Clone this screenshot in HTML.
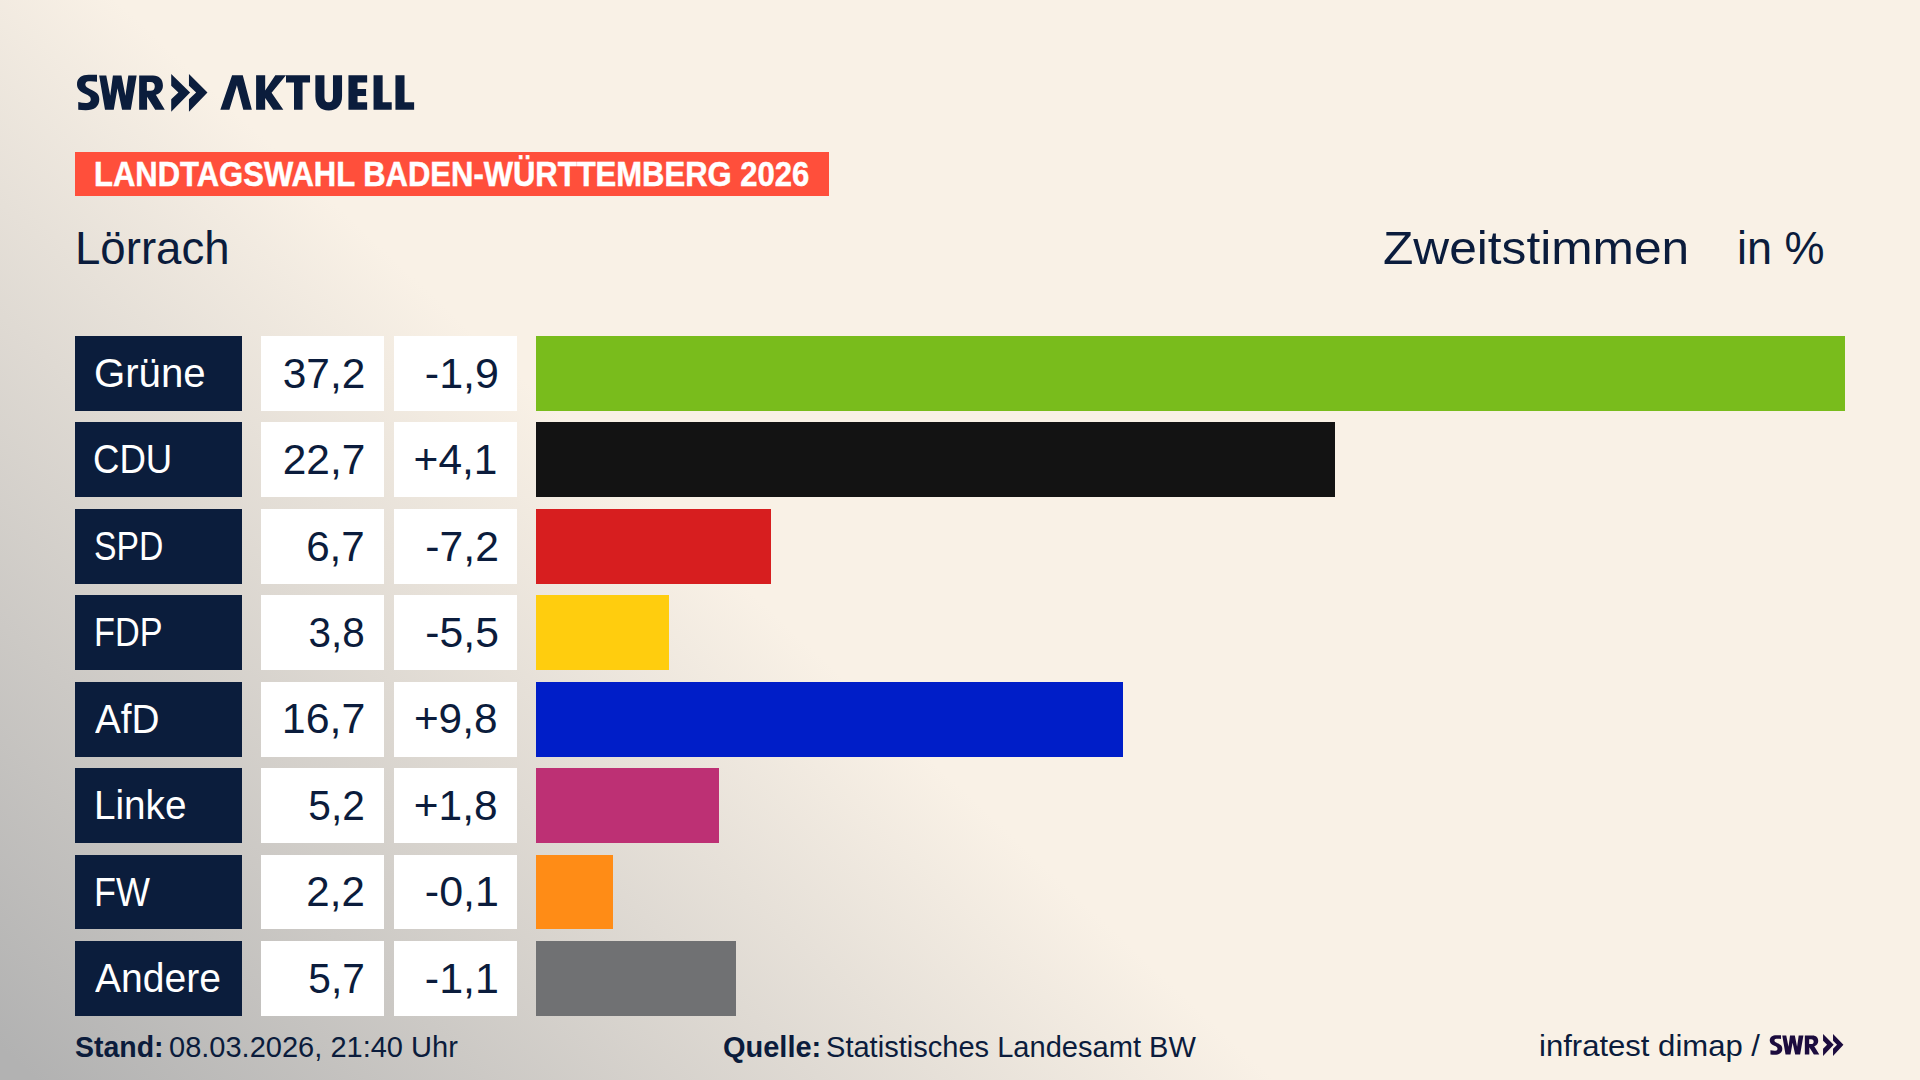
<!DOCTYPE html>
<html><head><meta charset="utf-8">
<style>
html,body{margin:0;padding:0;}
body{width:1920px;height:1080px;overflow:hidden;position:relative;font-family:"Liberation Sans",sans-serif;color:#0b1c3c;
background:linear-gradient(223deg, #f9f1e6 0px, #f9f1e6 1230px, #b2b2b2 2075px);}
.a{position:absolute;white-space:nowrap;line-height:1;}
.b{position:absolute;}
</style></head><body>

<svg style="position:absolute;left:70px;top:65px" width="360" height="55" viewBox="0 0 360 55"><g fill="#0b1d3c">
  <g transform="translate(2,5) scale(0.0416667)">
   <path d="M600,115 L600,280 C540,270 460,265 400,270 C340,275 320,310 320,350 C320,400 370,430 450,465 C590,525 655,580 655,700 C655,870 540,965 330,965 C260,965 200,960 150,955 L150,770 C220,785 300,795 360,790 C420,785 450,750 450,700 C450,640 400,610 320,575 C180,515 120,440 120,340 C120,190 240,115 400,115 Z"/>
  </g>
  <g transform="translate(25,5) scale(0.0416667)">
   <path d="M100,130 L270,130 L365,620 L430,130 L635,130 L730,620 L800,130 L1000,130 L860,955 L650,955 L540,440 L450,955 L240,955 Z"/>
   <path fill-rule="evenodd" d="M1060,130 H1390 C1540,130 1630,220 1630,370 C1630,480 1570,560 1460,595 L1675,955 H1445 L1250,640 V955 H1060 Z M1245,290 V500 H1330 C1400,500 1435,460 1435,395 C1435,330 1400,290 1330,290 Z"/>
  </g>
  <g transform="scale(0.0755287)">
   <path d="M1340,120 L1590,365 L1340,620 L1340,455 L1435,365 L1340,275 Z"/>
   <path d="M1575,120 L1820,365 L1575,620 L1575,455 L1670,365 L1575,275 Z"/>
  </g>
  <g transform="translate(145,0) scale(0.1067708)">
   <path d="M50,420 L160,95 L260,95 L345,420 L265,420 L205,190 L135,420 Z"/>
   <path d="M385,95 L470,95 L470,240 L565,95 L665,95 L530,260 L640,420 L545,420 L470,310 L470,420 L385,420 Z"/>
   <path d="M665,95 L890,95 L890,165 L820,165 L820,420 L740,420 L740,165 L665,165 Z"/>
   <path d="M940,95 H1025 V295 C1025,335 1040,350 1065,350 C1090,350 1105,335 1105,295 V95 H1190 V290 C1190,380 1140,425 1065,425 C990,425 940,380 940,290 Z"/>
   <path d="M1250,95 H1425 V165 H1335 V225 H1415 V290 H1335 V350 H1425 V420 H1250 Z"/>
   <path d="M1485,95 H1570 V350 H1655 V420 H1485 Z"/>
   <path d="M1690,95 H1775 V350 H1865 V420 H1690 Z"/>
  </g>
</g></svg>
<div class="b" style="left:75px;top:151.9px;width:753.8px;height:44.6px;background:#ff4f3b"></div>
<div class="b" style="left:75px;top:336.00px;width:167px;height:74.8px;background:#0b1d3c"></div>
<div class="b" style="left:261px;top:336.00px;width:123px;height:74.8px;background:#fff"></div>
<div class="b" style="left:394px;top:336.00px;width:123px;height:74.8px;background:#fff"></div>
<div class="b" style="left:536px;top:336.00px;width:1308.90px;height:74.8px;background:#79bc1c"></div>
<div class="b" style="left:75px;top:422.43px;width:167px;height:74.8px;background:#0b1d3c"></div>
<div class="b" style="left:261px;top:422.43px;width:123px;height:74.8px;background:#fff"></div>
<div class="b" style="left:394px;top:422.43px;width:123px;height:74.8px;background:#fff"></div>
<div class="b" style="left:536px;top:422.43px;width:798.90px;height:74.8px;background:#131313"></div>
<div class="b" style="left:75px;top:508.86px;width:167px;height:74.8px;background:#0b1d3c"></div>
<div class="b" style="left:261px;top:508.86px;width:123px;height:74.8px;background:#fff"></div>
<div class="b" style="left:394px;top:508.86px;width:123px;height:74.8px;background:#fff"></div>
<div class="b" style="left:536px;top:508.86px;width:234.80px;height:74.8px;background:#d71e1f"></div>
<div class="b" style="left:75px;top:595.29px;width:167px;height:74.8px;background:#0b1d3c"></div>
<div class="b" style="left:261px;top:595.29px;width:123px;height:74.8px;background:#fff"></div>
<div class="b" style="left:394px;top:595.29px;width:123px;height:74.8px;background:#fff"></div>
<div class="b" style="left:536px;top:595.29px;width:132.70px;height:74.8px;background:#ffcd0e"></div>
<div class="b" style="left:75px;top:681.71px;width:167px;height:74.8px;background:#0b1d3c"></div>
<div class="b" style="left:261px;top:681.71px;width:123px;height:74.8px;background:#fff"></div>
<div class="b" style="left:394px;top:681.71px;width:123px;height:74.8px;background:#fff"></div>
<div class="b" style="left:536px;top:681.71px;width:586.90px;height:74.8px;background:#001ec8"></div>
<div class="b" style="left:75px;top:768.14px;width:167px;height:74.8px;background:#0b1d3c"></div>
<div class="b" style="left:261px;top:768.14px;width:123px;height:74.8px;background:#fff"></div>
<div class="b" style="left:394px;top:768.14px;width:123px;height:74.8px;background:#fff"></div>
<div class="b" style="left:536px;top:768.14px;width:182.80px;height:74.8px;background:#bd3074"></div>
<div class="b" style="left:75px;top:854.57px;width:167px;height:74.8px;background:#0b1d3c"></div>
<div class="b" style="left:261px;top:854.57px;width:123px;height:74.8px;background:#fff"></div>
<div class="b" style="left:394px;top:854.57px;width:123px;height:74.8px;background:#fff"></div>
<div class="b" style="left:536px;top:854.57px;width:76.60px;height:74.8px;background:#ff8c16"></div>
<div class="b" style="left:75px;top:941.00px;width:167px;height:74.8px;background:#0b1d3c"></div>
<div class="b" style="left:261px;top:941.00px;width:123px;height:74.8px;background:#fff"></div>
<div class="b" style="left:394px;top:941.00px;width:123px;height:74.8px;background:#fff"></div>
<div class="b" style="left:536px;top:941.00px;width:199.80px;height:74.8px;background:#707173"></div>
<svg style="position:absolute;left:1700px;top:1020px" width="160" height="50" viewBox="0 0 160 50"><g fill="#1c0c3e">
<g transform="translate(69.85,15.0) scale(0.5645,0.551) translate(-7.2,-9.4)">  <g transform="translate(2,5) scale(0.0416667)">
   <path d="M600,115 L600,280 C540,270 460,265 400,270 C340,275 320,310 320,350 C320,400 370,430 450,465 C590,525 655,580 655,700 C655,870 540,965 330,965 C260,965 200,960 150,955 L150,770 C220,785 300,795 360,790 C420,785 450,750 450,700 C450,640 400,610 320,575 C180,515 120,440 120,340 C120,190 240,115 400,115 Z"/>
  </g>
  <g transform="translate(25,5) scale(0.0416667)">
   <path d="M100,130 L270,130 L365,620 L430,130 L635,130 L730,620 L800,130 L1000,130 L860,955 L650,955 L540,440 L450,955 L240,955 Z"/>
   <path fill-rule="evenodd" d="M1060,130 H1390 C1540,130 1630,220 1630,370 C1630,480 1570,560 1460,595 L1675,955 H1445 L1250,640 V955 H1060 Z M1245,290 V500 H1330 C1400,500 1435,460 1435,395 C1435,330 1400,290 1330,290 Z"/>
  </g>
</g>
<g transform="translate(123.05,14.1) scale(0.562,0.578) translate(-101.2,-9.1)">  <g transform="scale(0.0755287)">
   <path d="M1340,120 L1590,365 L1340,620 L1340,455 L1435,365 L1340,275 Z"/>
   <path d="M1575,120 L1820,365 L1575,620 L1575,455 L1670,365 L1575,275 Z"/>
  </g></g>
</g></svg>
<div class="a" id="t_banner" style="top:156.82px;font-size:34.59px;color:#fff;-webkit-text-stroke:0.5px #fff;font-weight:bold;transform:scaleX(0.8964);transform-origin:0 0;left:93.62px;">LANDTAGSWAHL BADEN-WÜRTTEMBERG 2026</div>
<div class="a" id="t_lorrach" style="top:224.77px;font-size:46.22px;color:#0b1c3c;transform:scaleX(0.9862);transform-origin:0 0;left:74.85px;">Lörrach</div>
<div class="a" id="t_zweit" style="top:224.59px;font-size:46.44px;color:#0b1c3c;transform:scaleX(1.0691);transform-origin:0 0;left:1382.87px;">Zweitstimmen</div>
<div class="a" id="t_inp" style="top:224.59px;font-size:46.44px;color:#0b1c3c;transform:scaleX(0.9689);transform-origin:0 0;left:1737.43px;">in %</div>
<div class="a" id="t_l0" style="top:354.06px;font-size:39.97px;color:#fff;transform:scaleX(1.0050);transform-origin:0 0;left:94.27px;">Grüne</div>
<div class="a" id="t_v0" style="top:352.70px;font-size:42.30px;color:#0b1c3c;transform:scaleX(1.0034);transform-origin:100% 0;right:1554.60px;">37,2</div>
<div class="a" id="t_d0" style="top:352.70px;font-size:42.30px;color:#0b1c3c;transform:scaleX(1.0163);transform-origin:100% 0;right:1421.58px;">-1,9</div>
<div class="a" id="t_l1" style="top:440.49px;font-size:39.97px;color:#fff;transform:scaleX(0.9155);transform-origin:0 0;left:93.07px;">CDU</div>
<div class="a" id="t_v1" style="top:439.12px;font-size:42.30px;color:#0b1c3c;transform:scaleX(1.0034);transform-origin:100% 0;right:1554.60px;">22,7</div>
<div class="a" id="t_d1" style="top:439.12px;font-size:42.30px;color:#0b1c3c;transform:scaleX(1.0050);transform-origin:100% 0;right:1422.60px;">+4,1</div>
<div class="a" id="t_l2" style="top:526.92px;font-size:39.97px;color:#fff;transform:scaleX(0.8437);transform-origin:0 0;left:94.08px;">SPD</div>
<div class="a" id="t_v2" style="top:525.55px;font-size:42.30px;color:#0b1c3c;transform:scaleX(0.9975);transform-origin:100% 0;right:1555.62px;">6,7</div>
<div class="a" id="t_d2" style="top:525.55px;font-size:42.30px;color:#0b1c3c;transform:scaleX(1.0090);transform-origin:100% 0;right:1421.59px;">-7,2</div>
<div class="a" id="t_l3" style="top:613.35px;font-size:39.97px;color:#fff;transform:scaleX(0.8564);transform-origin:0 0;left:94.00px;">FDP</div>
<div class="a" id="t_v3" style="top:611.98px;font-size:42.30px;color:#0b1c3c;transform:scaleX(0.9557);transform-origin:100% 0;right:1555.69px;">3,8</div>
<div class="a" id="t_d3" style="top:611.98px;font-size:42.30px;color:#0b1c3c;transform:scaleX(1.0090);transform-origin:100% 0;right:1421.59px;">-5,5</div>
<div class="a" id="t_l4" style="top:699.78px;font-size:39.97px;color:#fff;transform:scaleX(0.9685);transform-origin:0 0;left:95.00px;">AfD</div>
<div class="a" id="t_v4" style="top:698.41px;font-size:42.30px;color:#0b1c3c;transform:scaleX(1.0142);transform-origin:100% 0;right:1554.59px;">16,7</div>
<div class="a" id="t_d4" style="top:698.41px;font-size:42.30px;color:#0b1c3c;transform:scaleX(1.0013);transform-origin:100% 0;right:1422.61px;">+9,8</div>
<div class="a" id="t_l5" style="top:786.21px;font-size:39.97px;color:#fff;transform:scaleX(0.9677);transform-origin:0 0;left:93.64px;">Linke</div>
<div class="a" id="t_v5" style="top:784.84px;font-size:42.30px;color:#0b1c3c;transform:scaleX(0.9611);transform-origin:100% 0;right:1555.68px;">5,2</div>
<div class="a" id="t_d5" style="top:784.84px;font-size:42.30px;color:#0b1c3c;transform:scaleX(1.0025);transform-origin:100% 0;right:1422.61px;">+1,8</div>
<div class="a" id="t_l6" style="top:872.64px;font-size:39.97px;color:#fff;transform:scaleX(0.8992);transform-origin:0 0;left:94.16px;">FW</div>
<div class="a" id="t_v6" style="top:871.27px;font-size:42.30px;color:#0b1c3c;transform:scaleX(0.9939);transform-origin:100% 0;right:1555.63px;">2,2</div>
<div class="a" id="t_d6" style="top:871.27px;font-size:42.30px;color:#0b1c3c;transform:scaleX(1.0162);transform-origin:100% 0;right:1421.58px;">-0,1</div>
<div class="a" id="t_l7" style="top:959.06px;font-size:39.97px;color:#fff;transform:scaleX(0.9767);transform-origin:0 0;left:95.00px;">Andere</div>
<div class="a" id="t_v7" style="top:957.70px;font-size:42.30px;color:#0b1c3c;transform:scaleX(0.9611);transform-origin:100% 0;right:1555.68px;">5,7</div>
<div class="a" id="t_d7" style="top:957.70px;font-size:42.30px;color:#0b1c3c;transform:scaleX(1.0162);transform-origin:100% 0;right:1421.58px;">-1,1</div>
<div class="a" id="t_stand" style="top:1033.24px;font-size:28.78px;color:#0b1c3c;font-weight:bold;transform:scaleX(0.9894);transform-origin:0 0;left:75.22px;">Stand:</div>
<div class="a" id="t_date" style="top:1032.74px;font-size:28.78px;color:#0b1c3c;transform:scaleX(1.0089);transform-origin:0 0;left:169.46px;">08.03.2026, 21:40 Uhr</div>
<div class="a" id="t_quelle" style="top:1033.24px;font-size:28.78px;color:#0b1c3c;font-weight:bold;transform:scaleX(1.0077);transform-origin:0 0;left:722.94px;">Quelle:</div>
<div class="a" id="t_src" style="top:1033.24px;font-size:28.78px;color:#0b1c3c;transform:scaleX(1.0102);transform-origin:0 0;left:825.94px;">Statistisches Landesamt BW</div>
<div class="a" id="t_infra" style="top:1032.44px;font-size:28.78px;color:#0b1c3c;transform:scaleX(1.0797);transform-origin:0 0;left:1539.18px;">infratest dimap /</div>
</body></html>
